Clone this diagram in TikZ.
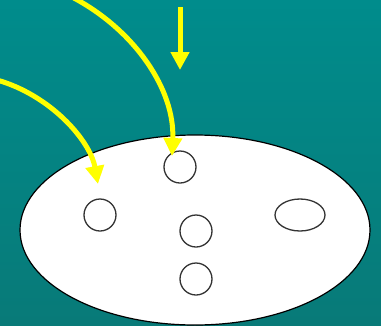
\documentclass[tikz,border=0pt]{standalone}
\usetikzlibrary{arrows.meta,shapes.geometric}
\begin{document}
\begin{tikzpicture}[x=1pt,y=-1pt,
  cell/.style={circle,draw=black!80,line width=1.3pt,fill=white,minimum size=32pt,inner sep=0pt},
  oval/.style={ellipse,draw=black!80,line width=1.3pt,fill=white,minimum width=50pt,minimum height=32pt,inner sep=0pt},
  ray/.style={draw={rgb,255:red,255;green,255;blue,0},line width=5pt,-{Triangle[width=18pt,length=18pt]}}]
\definecolor{tealtop}{RGB}{0,140,140}
\definecolor{tealbot}{RGB}{8,122,120}
\useasboundingbox (0,0) rectangle (381,325);
\shade[top color=tealtop,bottom color=tealbot] (0,0) rectangle (381,325);
\node[ellipse,draw=black,line width=1.2pt,fill=white,minimum width=350pt,minimum height=190pt,inner sep=0pt] (cellbody) at (195,230) {};
\node[cell] (c1) at (180,167) {};
\node[cell] (c2) at (100,215) {};
\node[cell] (c3) at (196,231) {};
\node[cell] (c4) at (196,279) {};
\node[oval] (c5) at (300,215) {};
\coordinate (s1) at (180,7);
\coordinate (e1) at (180,70);
\coordinate (s2) at (72,-3);
\coordinate (e2) at (172,156);
\coordinate (s3) at (-3,80);
\coordinate (e3) at (98,184);
\draw[ray] (s1) -- (e1);
\draw[ray] (s2) .. controls (135,30) and (175,90) .. (e2);
\draw[ray] (s3) .. controls (50,95) and (90,140) .. (e3);
\end{tikzpicture}
\end{document}
